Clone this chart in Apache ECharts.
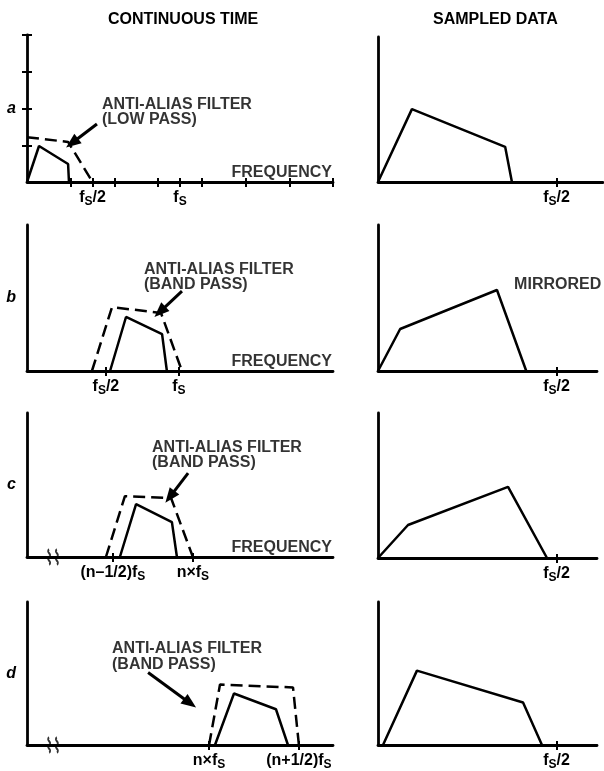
<!DOCTYPE html>
<html><head><meta charset="utf-8">
<script src="https://cdn.jsdelivr.net/npm/echarts@6/dist/echarts.min.js"></script>
<style>html,body{margin:0;padding:0;background:#fff}#c{width:604px;height:771px}</style>
</head><body><div id="c"></div>
<script>
// ---------- DATA ----------
const colTitles = ['CONTINUOUS TIME', 'SAMPLED DATA'];
const panelLetters = ['a', 'b', 'c', 'd'];

// Continuous-time panels: x in tick units, y in amplitude units (0..4)
const signalA = [[0,0],[0.55,0.98],[1.88,0.49],[1.92,0]];
const filterA = [[0,1.22],[1.88,1.09],[3.0,0]];
const signalB = [[3.80,0],[4.53,1.48],[6.18,1.01],[6.40,0]];
const filterB = [[2.97,0],[3.89,1.75],[6.13,1.59],[7.09,0]];
const signalC = [[4.25,0],[4.99,1.47],[6.63,0.97],[6.86,0]];
const filterC = [[3.61,0],[4.48,1.69],[6.59,1.64],[7.59,0]];
const signalD = [[8.60,0],[9.47,1.44],[11.39,1.0],[11.94,0]];
const filterD = [[8.33,0],[8.83,1.69],[12.17,1.61],[12.44,0]];

// Sampled-data panels: x as f/fs, y amplitude (0..4)
const sampledA = [[0,0],[0.095,2.01],[0.356,0.97],[0.375,0]];
const sampledB = [[0,0],[0.062,1.15],[0.333,2.22],[0.415,0]];
const sampledC = [[0,0],[0.084,0.91],[0.364,1.96],[0.473,0]];
const sampledD = [[0.014,0],[0.109,2.08],[0.406,1.19],[0.459,0]];

// Ticks and tick labels
const xTicksA = [2,3,4,6,7,8,10,12,14];
const xLabelsA = [[3,'f_S/2'],[7,'f_S']];
const yTicksA = [1,2,3,4];
const xTicksB = [3.61,6.95];
const xLabelsB = [[3.61,'f_S/2'],[6.95,'f_S']];
const xTicksC = [3.93,7.59];
const xLabelsC = [[3.93,'(n\u20131/2)f_S'],[7.59,'n\u00d7f_S']];
const xTicksD = [8.33,12.44];
const xLabelsD = [[8.33,'n\u00d7f_S'],[12.44,'(n+1/2)f_S']];
const rightTicks = [0.5];
const rightLabels = [[0.5,'f_S/2']];

// Annotations
const arrowA = [[3.2,1.58],[2.06,1.06]];
const arrowB = [[7.09,2.19],[6.08,1.62]];
const arrowC = [[7.37,2.33],[6.54,1.67]];
const arrowD = [[5.54,2.03],[7.46,1.17]];
const noteLow = 'ANTI-ALIAS FILTER\n(LOW PASS)';
const noteBand = 'ANTI-ALIAS FILTER\n(BAND PASS)';
const notePosA = [3.43,2.33];
const notePosB = [5.35,3.0];
const notePosC = [5.72,3.26];
const notePosD = [3.89,2.9];
const freqText = 'FREQUENCY';
const freqPos = [13.95,0.26];
const mirrorText = 'MIRRORED';
const mirrorPos = [0.381,2.36];
const breakPos = [1.19,0];

// ---------- LAYOUT ----------
const FONT = '"Liberation Sans", Arial, Helvetica, sans-serif';
const FS = 16;
const rich = {
  m:{fontSize:FS,fontWeight:'bold',fontFamily:FONT,color:'#000'},
  s:{fontSize:12,fontWeight:'bold',fontFamily:FONT,color:'#000',padding:[8,0,0,0]}
};
function fmt(t){
  const parts = t.split('_S'); let out = '';
  parts.forEach((p,i)=>{ if(p) out += '{m|'+p+'}'; if(i<parts.length-1) out += '{s|S}'; });
  return out;
}

const panels = [
  {g:[27,35,306,147], xMax:14, xt:xTicksA, xl:xLabelsA, yt:yTicksA, sig:signalA, fil:filterA, arr:arrowA, note:noteLow, np:notePosA, freq:true, brk:false, letter:0},
  {g:[27,225,306,146], xMax:14, xt:xTicksB, xl:xLabelsB, yt:[], sig:signalB, fil:filterB, arr:arrowB, note:noteBand, np:notePosB, freq:true, brk:false, letter:1},
  {g:[27,413,306,144], xMax:14, xt:xTicksC, xl:xLabelsC, yt:[], sig:signalC, fil:filterC, arr:arrowC, note:noteBand, np:notePosC, freq:true, brk:true, letter:2},
  {g:[27,602,306,144], xMax:14, xt:xTicksD, xl:xLabelsD, yt:[], sig:signalD, fil:filterD, arr:arrowD, note:noteBand, np:notePosD, freq:false, brk:true, letter:3},
  {g:[378,37,225,145], xMax:0.63, xt:rightTicks, xl:rightLabels, yt:[], sig:sampledA},
  {g:[378,225,219,146], xMax:0.613, xt:rightTicks, xl:rightLabels, yt:[], sig:sampledB, mirror:true},
  {g:[378,413,219,145], xMax:0.613, xt:rightTicks, xl:rightLabels, yt:[], sig:sampledC},
  {g:[378,602,219,144], xMax:0.613, xt:rightTicks, xl:rightLabels, yt:[], sig:sampledD}
];

const grid=[], xAxis=[], yAxis=[], series=[];
const AXW = 2.8, LW = 2.5;
const textLabel = (txt, align, va) => ({show:true, position:'inside', formatter:txt, align:align, verticalAlign:va,
  fontSize:FS, fontWeight:'bold', fontFamily:FONT, color:'#000', lineHeight:15.5});

panels.forEach((p,i)=>{
  grid.push({left:p.g[0], top:p.g[1], width:p.g[2], height:p.g[3]});
  const labMap = {}; p.xl.forEach(([v,t])=>labMap[v]=t);
  const base = {gridIndex:i, type:'value', min:0, splitLine:{show:false}};
  xAxis.push(Object.assign({}, base, {max:p.xMax, position:'bottom',
    axisLine:{show:true, onZero:false, lineStyle:{color:'#000', width:AXW}},
    axisTick:{show:true, customValues:p.xt, length:5, lineStyle:{color:'#000', width:2}},
    axisLabel:{show:true, customValues:p.xl.map(d=>d[0]), margin:6, formatter:v=>fmt(labMap[v]||''), rich:rich}}));
  xAxis.push(Object.assign({}, base, {max:p.xMax, position:'bottom',
    axisLine:{show:false},
    axisTick:{show:true, inside:true, customValues:p.xt, length:4, lineStyle:{color:'#000', width:2}},
    axisLabel:{show:false}}));
  const yName = (p.letter!==undefined) ? panelLetters[p.letter] : '';
  yAxis.push(Object.assign({}, base, {max:4, position:'left',
    name:yName, nameLocation:'middle', nameRotate:0, nameGap:11,
    nameTextStyle:{fontSize:FS, fontWeight:'bold', fontStyle:'italic', fontFamily:FONT, color:'#000', padding:[6,0,0,0]},
    axisLine:{show:true, onZero:false, lineStyle:{color:'#000', width:AXW}},
    axisTick:{show:p.yt.length>0, customValues:p.yt, length:5, lineStyle:{color:'#000', width:2}},
    axisLabel:{show:false}}));
  yAxis.push(Object.assign({}, base, {max:4, position:'left',
    axisLine:{show:false},
    axisTick:{show:p.yt.length>0, inside:true, customValues:p.yt, length:5, lineStyle:{color:'#000', width:2}},
    axisLabel:{show:false}}));
  const ax = {xAxisIndex:2*i, yAxisIndex:2*i};
  series.push(Object.assign({type:'line', data:p.sig, showSymbol:false, symbol:'none', silent:true,
    lineStyle:{color:'#000', width:LW}, z:3}, ax));
  if(p.fil){
    series.push(Object.assign({type:'line', data:p.fil, showSymbol:false, symbol:'none', silent:true,
      lineStyle:{color:'#000', width:LW, type:[12,6]}, z:3,
      markLine:{silent:true, symbol:['none','triangle'], symbolSize:[12,15], animation:false,
        label:{show:false}, lineStyle:{color:'#000', width:3, type:'solid'},
        data:[[{coord:p.arr[0]},{coord:p.arr[1]}]]}}, ax));
    series.push(Object.assign({type:'scatter', symbolSize:0, silent:true, z:5,
      data:[p.np], label:textLabel(p.note,'left','top')}, ax));
  }
  if(p.freq){
    series.push(Object.assign({type:'scatter', symbolSize:0, silent:true, z:5,
      data:[freqPos], label:textLabel(freqText,'right','middle')}, ax));
  }
  if(p.mirror){
    series.push(Object.assign({type:'scatter', symbolSize:0, silent:true, z:5,
      data:[mirrorPos], label:textLabel(mirrorText,'left','middle')}, ax));
  }
  if(p.brk){
    series.push(Object.assign({type:'scatter', silent:true, z:6, clip:false,
      symbol:'path://M3,0 C0,3 6,6 3,9 C0,12 6,15 3,18 M9,0 C6,3 12,6 9,9 C6,12 12,15 9,18',
      symbolSize:[10,15], itemStyle:{color:'rgba(0,0,0,0)', borderColor:'#000', borderWidth:2},
      data:[breakPos]}, ax));
  }
});

const chart = echarts.init(document.getElementById('c'));
chart.setOption({
  animation:false,
  backgroundColor:'#fff',
  title:[
    {text:colTitles[0], left:103, top:7, textStyle:{fontSize:FS, fontWeight:'bold', fontFamily:FONT, color:'#000'}},
    {text:colTitles[1], left:428, top:7, textStyle:{fontSize:FS, fontWeight:'bold', fontFamily:FONT, color:'#000'}}
  ],
  grid, xAxis, yAxis, series
});
</script></body></html>
